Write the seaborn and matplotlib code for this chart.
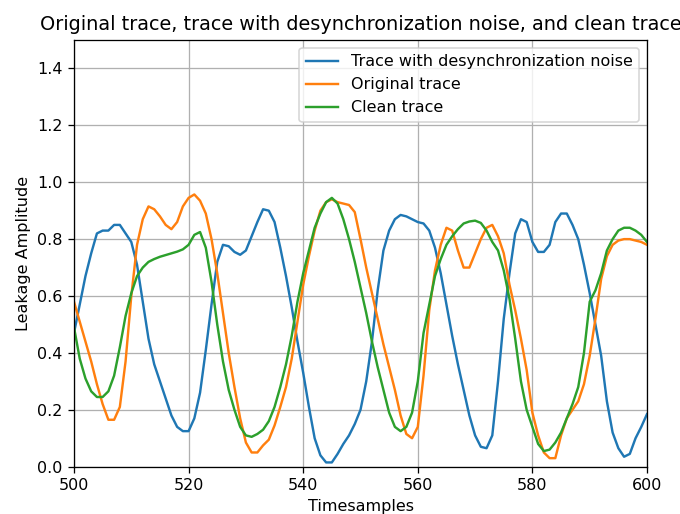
import numpy as np
import matplotlib
matplotlib.use("Agg")
import matplotlib.pyplot as plt
import seaborn as sns

# Time axis (sample index)
timesamples = list(range(500, 601))

# Trace shifted by desynchronization noise
desync_trace = [
    0.47, 0.57, 0.67, 0.75, 0.82, 0.83, 0.83, 0.85, 0.85, 0.82,
    0.79, 0.71, 0.58, 0.45, 0.36, 0.30, 0.24, 0.18, 0.14, 0.125,
    0.125, 0.17, 0.26, 0.41, 0.57, 0.72, 0.78, 0.775, 0.755, 0.745,
    0.76, 0.81, 0.86, 0.905, 0.90, 0.86, 0.77, 0.67, 0.56, 0.44,
    0.33, 0.21, 0.10, 0.04, 0.015, 0.015, 0.045, 0.08, 0.11, 0.15,
    0.20, 0.30, 0.44, 0.62, 0.76, 0.83, 0.87, 0.885, 0.88, 0.87,
    0.86, 0.855, 0.83, 0.77, 0.68, 0.57, 0.46, 0.36, 0.27, 0.18,
    0.11, 0.07, 0.065, 0.11, 0.30, 0.52, 0.68, 0.82, 0.87, 0.86,
    0.79, 0.755, 0.755, 0.78, 0.86, 0.89, 0.89, 0.85, 0.80, 0.71,
    0.61, 0.50, 0.39, 0.23, 0.12, 0.065, 0.035, 0.045, 0.10, 0.14,
    0.185,
]

# Original (aligned) trace
original_trace = [
    0.58, 0.51, 0.44, 0.37, 0.29, 0.22, 0.165, 0.165, 0.21, 0.37,
    0.60, 0.78, 0.87, 0.915, 0.905, 0.88, 0.85, 0.835, 0.86, 0.915,
    0.945, 0.957, 0.935, 0.89, 0.80, 0.68, 0.54, 0.40, 0.28, 0.17,
    0.085, 0.05, 0.05, 0.075, 0.095, 0.145, 0.21, 0.28, 0.38, 0.51,
    0.64, 0.74, 0.83, 0.90, 0.93, 0.94, 0.93, 0.925, 0.92, 0.895,
    0.80, 0.70, 0.61, 0.52, 0.43, 0.35, 0.27, 0.18, 0.115, 0.10,
    0.14, 0.32, 0.55, 0.69, 0.78, 0.84, 0.83, 0.76, 0.70, 0.70,
    0.75, 0.80, 0.84, 0.85, 0.81, 0.75, 0.64, 0.55, 0.45, 0.34,
    0.19, 0.11, 0.05, 0.03, 0.03, 0.11, 0.17, 0.20, 0.23, 0.29,
    0.39, 0.52, 0.66, 0.74, 0.78, 0.795, 0.80, 0.80, 0.795, 0.79,
    0.78,
]

# Trace after noise removal
clean_trace = [
    0.49, 0.38, 0.31, 0.265, 0.245, 0.245, 0.265, 0.32, 0.42, 0.53,
    0.61, 0.67, 0.70, 0.72, 0.73, 0.738, 0.744, 0.75, 0.756, 0.764,
    0.78, 0.815, 0.825, 0.77, 0.65, 0.50, 0.37, 0.27, 0.20, 0.14,
    0.11, 0.105, 0.115, 0.13, 0.16, 0.21, 0.28, 0.36, 0.46, 0.58,
    0.68, 0.76, 0.84, 0.89, 0.93, 0.945, 0.925, 0.87, 0.80, 0.72,
    0.63, 0.54, 0.44, 0.35, 0.27, 0.19, 0.14, 0.125, 0.14, 0.19,
    0.30, 0.47, 0.57, 0.67, 0.73, 0.78, 0.81, 0.835, 0.855, 0.862,
    0.865, 0.857, 0.83, 0.79, 0.76, 0.69, 0.59, 0.45, 0.30, 0.20,
    0.14, 0.08, 0.055, 0.06, 0.085, 0.12, 0.17, 0.22, 0.28, 0.40,
    0.58, 0.62, 0.68, 0.76, 0.80, 0.83, 0.84, 0.84, 0.83, 0.815,
    0.79,
]

series_labels = [
    "Trace with desynchronization noise",
    "Original trace",
    "Clean trace",
]

DPI = 115.5
W, H = 680, 514
fig = plt.figure(figsize=(W / DPI, H / DPI), dpi=DPI)
ax = fig.add_axes([74 / W, 1 - 466.7 / H, (647 - 74) / W, (466.7 - 40) / H])

palette = sns.color_palette("tab10")
for values, label, color in zip(
    [desync_trace, original_trace, clean_trace], series_labels, palette[:3]
):
    sns.lineplot(x=timesamples, y=values, ax=ax, label=label, color=color, linewidth=1.5)

ax.set_xlim(500, 600)
ax.set_ylim(0, 1.5)
ax.set_xticks([500, 520, 540, 560, 580, 600])
ax.grid(True, color="#b0b0b0", linewidth=0.8)
ax.set_title("Original trace, trace with desynchronization noise, and clean trace", fontsize=12)
ax.set_xlabel("Timesamples")
ax.set_ylabel("Leakage Amplitude")
ax.legend(loc="upper right")

fig.savefig("out.png", dpi=DPI)
